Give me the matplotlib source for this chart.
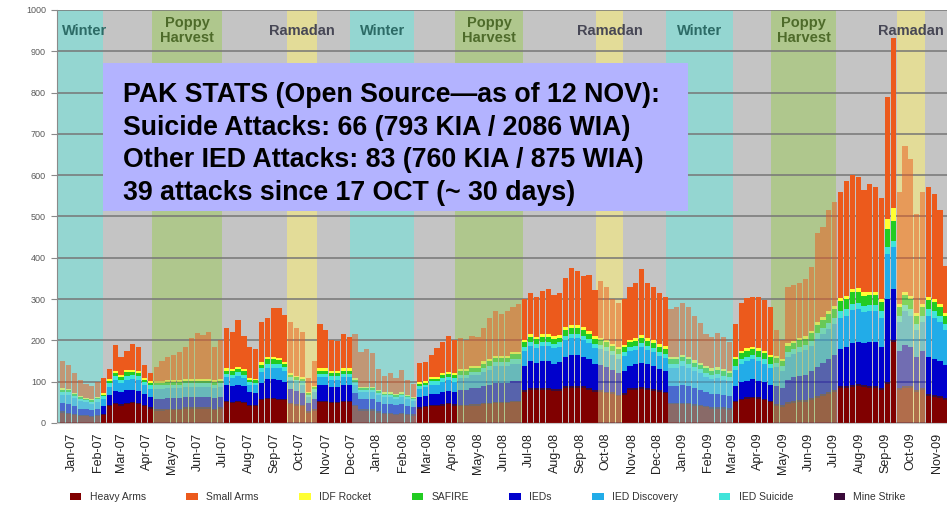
import matplotlib
matplotlib.use("Agg")
import matplotlib.pyplot as plt
import matplotlib.dates as mdates
from matplotlib.colors import to_rgba
from matplotlib.patches import Patch, Rectangle
import numpy as np
import pandas as pd

plt.rcParams['font.family'] = ['Liberation Sans', 'DejaVu Sans']

# weekly buckets, Jan-07 .. Nov-09
weeks = pd.date_range('2007-01-01', periods=152, freq='7D')

heavy_arms = [25, 22, 20, 18, 18, 15, 18, 20,
              40, 45, 42, 45, 48, 45, 40, 35,
              30, 30, 32, 32, 32, 35, 35, 35, 35, 35, 32, 35,
              50, 48, 50, 48, 40, 40, 55, 58, 58, 56, 55,
              45, 42, 40, 25, 30,
              50, 50, 48, 48, 50, 50,
              40, 30, 30, 30, 25, 22, 22, 20, 22, 20, 18,
              35, 38, 40, 40, 42, 45, 42,
              40, 40, 42, 42, 45, 45, 48, 48, 48, 50, 50,
              75, 80, 80, 80, 80, 78, 78, 85, 85, 85, 85, 80, 75,
              75, 72, 70, 65, 68,
              80, 80, 82, 80, 78, 75, 72,
              45, 45, 45, 45, 42, 40, 38, 35, 35, 35, 32,
              50, 55, 58, 60, 58, 55, 50,
              40, 38, 45, 48, 50, 50, 55, 60, 65, 70, 75,
              85, 85, 88, 90, 88, 85, 85, 80, 95, 195,
              80, 85, 85, 75, 80,
              65, 62, 60, 55]

mine_strike = [3, 3, 2, 2, 2, 2, 2, 3,
               3, 3, 3, 3, 3, 3, 3, 3,
               3, 3, 3, 3, 3, 3, 3, 3, 3, 3, 3, 3,
               3, 3, 3, 3, 3, 3, 3, 3, 3, 3, 3,
               3, 3, 3, 3, 3,
               3, 3, 3, 3, 3, 3,
               3, 3, 3, 3, 3, 3, 3, 3, 3, 3, 3,
               3, 3, 3, 3, 3, 3, 3,
               4, 4, 4, 4, 4, 4, 4, 4, 4, 4, 4,
               4, 4, 4, 4, 4, 4, 4, 4, 4, 4, 4, 4, 4,
               4, 4, 4, 4, 4,
               4, 4, 4, 4, 4, 4, 4,
               4, 4, 4, 4, 4, 4, 4, 4, 4, 4, 4,
               4, 4, 4, 4, 4, 4, 4,
               5, 5, 5, 5, 5, 5, 5, 5, 5, 5, 5,
               5, 5, 5, 5, 5, 5, 5, 5, 5, 5,
               5, 5, 5, 5, 5,
               5, 5, 5, 5]

ieds = [20, 20, 18, 15, 15, 15, 15, 18,
        25, 30, 30, 32, 30, 30, 28, 25,
        25, 25, 25, 25, 25, 25, 25, 25, 25, 25, 25, 25,
        38, 38, 40, 38, 32, 30, 40, 45, 45, 45, 42,
        35, 32, 30, 20, 25,
        38, 38, 36, 36, 38, 38,
        30, 25, 25, 25, 22, 20, 20, 20, 20, 18, 18,
        25, 25, 28, 28, 30, 30, 30,
        35, 35, 38, 38, 40, 42, 45, 45, 45, 48, 48,
        60, 65, 62, 65, 65, 62, 65, 72, 75, 75, 72, 70, 65,
        62, 60, 55, 52, 55,
        55, 58, 60, 58, 55, 52, 50,
        40, 40, 42, 40, 38, 36, 32, 32, 32, 30, 30,
        35, 40, 40, 42, 40, 40, 38,
        45, 42, 55, 58, 60, 62, 65, 70, 75, 80, 85,
        90, 95, 100, 100, 100, 105, 105, 100, 200, 125,
        90, 100, 95, 80, 90,
        90, 88, 85, 80]

ied_discovery = [20, 22, 20, 18, 16, 15, 16, 18,
                 20, 25, 22, 25, 25, 25, 20, 20,
                 25, 25, 25, 25, 25, 25, 25, 25, 25, 25, 25, 25,
                 20, 20, 22, 20, 18, 18, 25, 28, 28, 28, 25,
                 20, 20, 20, 15, 18,
                 20, 20, 18, 18, 20, 20,
                 20, 18, 18, 18, 18, 18, 18, 16, 18, 16, 15,
                 20, 20, 22, 22, 25, 25, 25,
                 30, 30, 32, 32, 35, 38, 40, 40, 40, 42, 42,
                 35, 38, 35, 38, 38, 38, 38, 40, 42, 42, 40, 40, 38,
                 38, 38, 35, 35, 35,
                 35, 35, 38, 35, 35, 32, 32,
                 45, 45, 48, 45, 42, 40, 38, 36, 38, 36, 35,
                 40, 45, 48, 48, 48, 45, 42,
                 45, 42, 55, 55, 58, 60, 62, 68, 70, 72, 75,
                 75, 75, 80, 80, 75, 75, 75, 70, 110, 100,
                 70, 80, 75, 65, 70,
                 100, 100, 95, 85]

ied_suicide = [8, 8, 6, 6, 5, 5, 6, 6,
               8, 10, 8, 10, 10, 10, 8, 8,
               8, 8, 8, 8, 8, 8, 8, 8, 8, 8, 8, 8,
               8, 8, 8, 8, 6, 6, 10, 10, 10, 10, 10,
               8, 8, 8, 5, 6,
               8, 8, 8, 8, 8, 8,
               6, 5, 5, 5, 5, 5, 5, 5, 5, 5, 4,
               6, 6, 8, 8, 8, 8, 8,
               8, 8, 8, 8, 10, 10, 10, 10, 10, 10, 10,
               10, 10, 10, 10, 10, 10, 10, 10, 10, 10, 10, 10, 10,
               10, 10, 10, 10, 10,
               10, 10, 10, 10, 10, 10, 10,
               10, 10, 10, 10, 10, 10, 10, 10, 10, 10, 10,
               10, 10, 10, 10, 10, 10, 10,
               10, 10, 12, 12, 12, 12, 12, 15, 15, 15, 15,
               15, 15, 15, 15, 15, 15, 15, 15, 15, 15,
               15, 15, 15, 15, 15,
               15, 15, 15, 15]

safire = [5, 5, 4, 4, 3, 3, 4, 4,
          6, 8, 7, 8, 8, 8, 6, 6,
          6, 6, 6, 6, 6, 6, 6, 6, 6, 6, 6, 6,
          8, 8, 8, 8, 6, 6, 8, 10, 10, 10, 8,
          6, 6, 6, 4, 5,
          8, 8, 8, 8, 8, 8,
          5, 4, 4, 4, 4, 3, 3, 3, 3, 3, 3,
          6, 6, 6, 6, 8, 8, 8,
          8, 8, 8, 8, 10, 10, 10, 10, 10, 12, 12,
          12, 12, 12, 12, 12, 12, 12, 15, 15, 15, 15, 12, 12,
          12, 12, 12, 12, 12,
          12, 12, 12, 12, 12, 12, 12,
          10, 10, 10, 10, 10, 10, 10, 10, 10, 10, 10,
          15, 15, 15, 15, 15, 15, 15,
          12, 12, 15, 15, 15, 15, 18, 20, 20, 22, 22,
          25, 25, 28, 28, 25, 25, 25, 22, 45, 50,
          20, 25, 25, 18, 20,
          22, 22, 20, 18]

idf_rocket = [4, 3, 3, 2, 2, 2, 3, 3,
              4, 5, 4, 5, 5, 5, 4, 4,
              4, 4, 4, 4, 4, 4, 4, 4, 4, 4, 4, 4,
              5, 5, 5, 5, 4, 4, 6, 6, 6, 6, 5,
              4, 4, 4, 3, 3,
              5, 5, 5, 5, 5, 5,
              4, 3, 3, 3, 3, 3, 3, 3, 3, 3, 3,
              4, 4, 4, 4, 5, 5, 5,
              5, 5, 5, 5, 5, 5, 5, 5, 5, 5, 5,
              6, 6, 6, 6, 6, 6, 6, 6, 6, 6, 6, 6, 6,
              6, 6, 6, 6, 6,
              6, 6, 6, 6, 6, 6, 6,
              6, 6, 6, 6, 6, 6, 6, 6, 6, 6, 6,
              6, 6, 6, 6, 6, 6, 6,
              6, 6, 6, 6, 6, 6, 6, 6, 6, 6, 6,
              8, 8, 8, 8, 8, 8, 8, 8, 25, 30,
              8, 8, 8, 8, 8,
              8, 8, 8, 8]

small_arms = [65, 57, 47, 40, 34, 33, 36, 38,
              24, 62, 44, 47, 63, 59, 31, 19,
              34, 49, 57, 62, 69, 79, 99, 112, 106, 114, 82, 94,
              98, 90, 114, 80, 76, 73, 98, 95, 118, 120, 114,
              124, 115, 109, 35, 60,
              108, 93, 74, 72, 83, 76,
              107, 84, 90, 82, 50, 41, 46, 40, 54, 37, 31,
              46, 46, 54, 71, 75, 86, 79,
              75, 70, 73, 71, 81, 101, 110, 103, 108, 111, 117,
              98, 100, 96, 105, 109, 100, 102, 120, 138, 130, 125, 136, 112,
              138, 128, 108, 106, 110,
              128, 135, 160, 135, 130, 124, 120,
              115, 120, 125, 120, 106, 96, 77, 75, 82, 77, 68,
              80, 115, 121, 121, 124, 123, 115,
              62, 45, 137, 136, 134, 138, 155, 216, 219, 246, 252,
              257, 277, 276, 269, 249, 260, 254, 245, 295, 412,
              272, 352, 332, 239, 272,
              267, 255, 227, 114]

# legend order
series_names = ["Heavy Arms", "Small Arms", "IDF Rocket", "SAFIRE",
                "IEDs", "IED Discovery", "IED Suicide", "Mine Strike"]
series_data = {"Heavy Arms": heavy_arms, "Small Arms": small_arms,
               "IDF Rocket": idf_rocket, "SAFIRE": safire, "IEDs": ieds,
               "IED Discovery": ied_discovery, "IED Suicide": ied_suicide,
               "Mine Strike": mine_strike}
series_colors = {"Heavy Arms": "#800000", "Small Arms": "#EC5A1C",
                 "IDF Rocket": "#FFFF33", "SAFIRE": "#22CC22",
                 "IEDs": "#0000CC", "IED Discovery": "#22ACE8",
                 "IED Suicide": "#40E4DA", "Mine Strike": "#3A0A3A"}
# bottom -> top in the stack
stack_order = ["Heavy Arms", "Mine Strike", "IEDs", "IED Discovery",
               "IED Suicide", "SAFIRE", "IDF Rocket", "Small Arms"]

# seasons shaded on the chart
season_kind = ["Winter", "Poppy", "Ramadan", "Winter", "Poppy", "Ramadan",
               "Winter", "Poppy", "Ramadan"]
season_start = ["2006-12-01", "2007-04-21", "2007-09-30", "2007-12-14",
                "2008-04-18", "2008-10-03", "2008-12-26", "2009-05-01",
                "2009-09-28"]
season_end = ["2007-02-22", "2007-07-14", "2007-11-05", "2008-02-29",
              "2008-07-08", "2008-11-05", "2009-03-16", "2009-07-18",
              "2009-11-01"]

band_color = {"Winter": "#94D6D1", "Poppy": "#AFC78D", "Ramadan": "#E3DC98"}
label_text = {"Winter": "Winter", "Poppy": "Poppy\nHarvest", "Ramadan": "Ramadan"}
label_color = {"Winter": "#2C6B66", "Poppy": "#4E6B2A", "Ramadan": "#474755"}

fig = plt.figure(figsize=(9.47, 5.05), dpi=100)
ax = fig.add_axes([57 / 947, 82 / 505, 890 / 947, 413 / 505])
ax.set_facecolor('#C4C4C4')

x_left = mdates.date2num(pd.Timestamp('2006-12-28 10:00'))
x_right = x_left + 1065
ax.set_xlim(x_left, x_right)
ax.set_ylim(0, 1000)

x = mdates.date2num(weeks.to_pydatetime())
mid = x + 3.5
washed = np.zeros(len(x), dtype=bool)
for kind, s, e in zip(season_kind, season_start, season_end):
    s_num = mdates.date2num(pd.Timestamp(s))
    e_num = mdates.date2num(pd.Timestamp(e))
    ax.axvspan(s_num, e_num, color=band_color[kind], lw=0, zorder=0.2)
    washed |= (mid >= s_num) & (mid < e_num)
    cx = (max(s_num, x_left + 10) + e_num) / 2
    ax.text(cx, 950, label_text[kind], ha='center', va='center',
            fontsize=10.5, fontweight='bold', color=label_color[kind],
            linespacing=1.05, zorder=3)

bottom = np.zeros(len(x))
for name in stack_order:
    vals = np.array(series_data[name], dtype=float)
    cols = [to_rgba(series_colors[name], 0.5 if w else 1.0) for w in washed]
    ax.bar(x, vals, width=6.2, bottom=bottom, align='edge', color=cols,
           linewidth=0, zorder=1)
    bottom += vals

ax.set_axisbelow(True)
ax.yaxis.grid(True, color='#767676', lw=1.1)
ax.set_yticks(range(0, 1001, 100))
ax.set_yticklabels([str(v) for v in range(0, 1001, 100)], fontsize=6.5, color='#5A5A5A')
ax.tick_params(axis='y', length=4, color='#8A8A8A', pad=4)

tick_dates = pd.date_range('2007-01-01', '2009-11-01', freq='MS') + pd.Timedelta(days=14)
ax.set_xticks(mdates.date2num(tick_dates.to_pydatetime()))
ax.set_xticklabels([d.strftime('%b-%y') for d in tick_dates], rotation=90,
                   fontsize=9, color='#222222')
ax.tick_params(axis='x', length=0, pad=7)

for side in ['top', 'right']:
    ax.spines[side].set_visible(False)
ax.spines['left'].set_color('#8A8A8A')
ax.spines['bottom'].set_color('#C8C8C8')

# info box
fig.add_artist(Rectangle((103 / 947, (505 - 211) / 505), 585 / 947, 148 / 505,
                         transform=fig.transFigure, facecolor='#B3B3FF',
                         edgecolor='none', zorder=5))
fig.text(123 / 947, 1 - 82 / 505,
         "PAK STATS (Open Source\u2014as of 12 NOV):\n"
         "Suicide Attacks: 66 (793 KIA / 2086 WIA)\n"
         "Other IED Attacks: 83 (760 KIA / 875 WIA)\n"
         "39 attacks since 17 OCT (~ 30 days)",
         fontsize=19.3, fontweight='bold', va='top', ha='left',
         linespacing=1.33, zorder=6)

# title, cut off by the top edge of the slide (only descenders show)
fig.text(414 / 947, 1 + 6 / 505, "Enemy Initiated Attacks by Type",
         fontsize=20, fontweight='bold', va='baseline', ha='left')

handles = [Patch(facecolor=series_colors[n], edgecolor='none') for n in series_names]
fig.legend(handles, series_names, ncol=8, loc='center',
           bbox_to_anchor=(0.515, 0.016), frameon=False, fontsize=7.5,
           handlelength=1.1, handleheight=0.7, handletextpad=0.8,
           columnspacing=3.9, labelcolor='#333333')

fig.savefig('out.png', dpi=100)
